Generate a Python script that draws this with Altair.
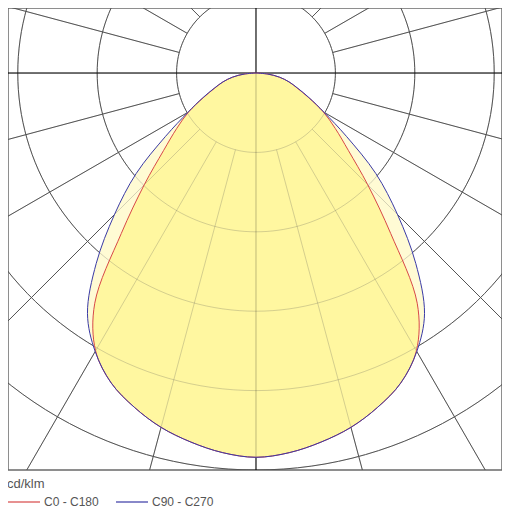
import altair as alt
import pandas as pd

# ---- data (cd/klm, one ring = 100) ----
GAMMA = [0, 5, 10, 15, 20, 25, 30, 35, 40, 45, 50, 55, 60, 65, 70, 75, 80, 85, 90]
C0_C180 = [484, 480, 472, 462, 448, 431, 404, 354, 264, 199, 152, 122, 98, 73, 55, 43, 30, 15, 0]
C90_C270 = [484, 480, 472, 462, 448, 431, 405, 370, 313, 252, 197, 139, 99, 74, 56, 43, 30, 15, 0]
SERIES = ["C0 - C180", "C90 - C270"]
LINE_COLORS = ["#d84848", "#3a3aa6"]
FILL_COLORS = ["#fff7a0", "#fffbd4"]
RINGS = [100, 200, 300, 400, 500]
SPOKES = [a for a in range(0, 360, 15) if a % 90 != 0]
AXIS_SPOKES = [0, 90, 180, 270]
RING_STEPS = list(range(0, 361, 2))
UNIT = "cd/klm"

rows = []
for name, vals in zip(SERIES, [C0_C180, C90_C270]):
    for g, v in zip(GAMMA, vals):
        rows.append({"series": name, "gamma": g, "I": v})
        if g:
            rows.append({"series": name, "gamma": -g, "I": v})
curve = pd.DataFrame(rows)

ring_df = pd.DataFrame([{"ring": r, "a": a} for r in RINGS for a in RING_STEPS])
spoke_df = pd.DataFrame({"a": SPOKES})
axis_df = pd.DataFrame({"a": AXIS_SPOKES})

xs = alt.Scale(domain=[-312.3, 309.8], nice=False, zero=False)
ys = alt.Scale(domain=[-500, 81.9], nice=False, zero=False)
X = alt.X("x:Q", scale=xs, axis=None)
Y = alt.Y("y:Q", scale=ys, axis=None)

GRID = "#555555"


def grid(op):
    rings = alt.Chart(ring_df).transform_calculate(
        x="datum.ring*sin(datum.a*PI/180)", y="-datum.ring*cos(datum.a*PI/180)"
    ).mark_line(color=GRID, strokeWidth=1, opacity=op, clip=True).encode(
        x=X, y=Y, detail="ring:N", order="a:Q"
    )
    spokes = alt.Chart(spoke_df).transform_calculate(
        x="100*sin(datum.a*PI/180)", y="-100*cos(datum.a*PI/180)",
        x2="800*sin(datum.a*PI/180)", y2="-800*cos(datum.a*PI/180)",
    ).mark_rule(color=GRID, strokeWidth=1, opacity=op, clip=True).encode(
        x=X, y=Y, x2="x2:Q", y2="y2:Q"
    )
    axes = alt.Chart(axis_df).transform_calculate(
        x="0", y="0",
        x2="800*sin(datum.a*PI/180)", y2="-800*cos(datum.a*PI/180)",
    ).mark_rule(color="#000000", strokeWidth=1, opacity=op, clip=True).encode(
        x=X, y=Y, x2="x2:Q", y2="y2:Q"
    )
    return [rings, spokes, axes]


base = alt.Chart(curve).transform_calculate(
    x="datum.I*sin(datum.gamma*PI/180)", y="-datum.I*cos(datum.gamma*PI/180)"
)

fill_c90 = base.transform_filter(alt.datum.series == SERIES[1]).mark_line(
    fill=FILL_COLORS[1], strokeOpacity=0, interpolate="catmull-rom", clip=True
).encode(x=X, y=Y, order="gamma:Q")
fill_c0 = base.transform_filter(alt.datum.series == SERIES[0]).mark_line(
    fill=FILL_COLORS[0], strokeOpacity=0, interpolate="catmull-rom", clip=True
).encode(x=X, y=Y, order="gamma:Q")

outline = base.mark_line(strokeWidth=1, interpolate="catmull-rom", clip=True).encode(
    x=X, y=Y, order="gamma:Q",
    color=alt.Color(
        "series:N",
        scale=alt.Scale(domain=SERIES, range=LINE_COLORS),
        legend=alt.Legend(
            title=UNIT, orient="none", legendX=-1, legendY=470, direction="horizontal",
            titleFontWeight="normal", titleFontSize=13, titleColor="#555555",
            titleFont="Liberation Sans", labelFont="Liberation Sans",
            labelFontSize=12, labelColor="#555555", symbolType="stroke",
            symbolSize=1024, symbolStrokeWidth=1.2, labelOffset=3,
            columnPadding=14, titlePadding=-6, padding=0, offset=0,
        ),
    ),
)

chart = alt.layer(
    *grid(1.0), fill_c90, fill_c0, *grid(0.25), outline
).properties(
    width=494, height=462,
    padding={"left": 0, "top": 0, "right": 0, "bottom": 40},
    autosize=alt.AutoSizeParams(type="none"),
).configure_view(stroke="#6a6a6a", strokeWidth=1.5)

chart.save("out.html", embed_options={"renderer": "svg", "actions": False})
